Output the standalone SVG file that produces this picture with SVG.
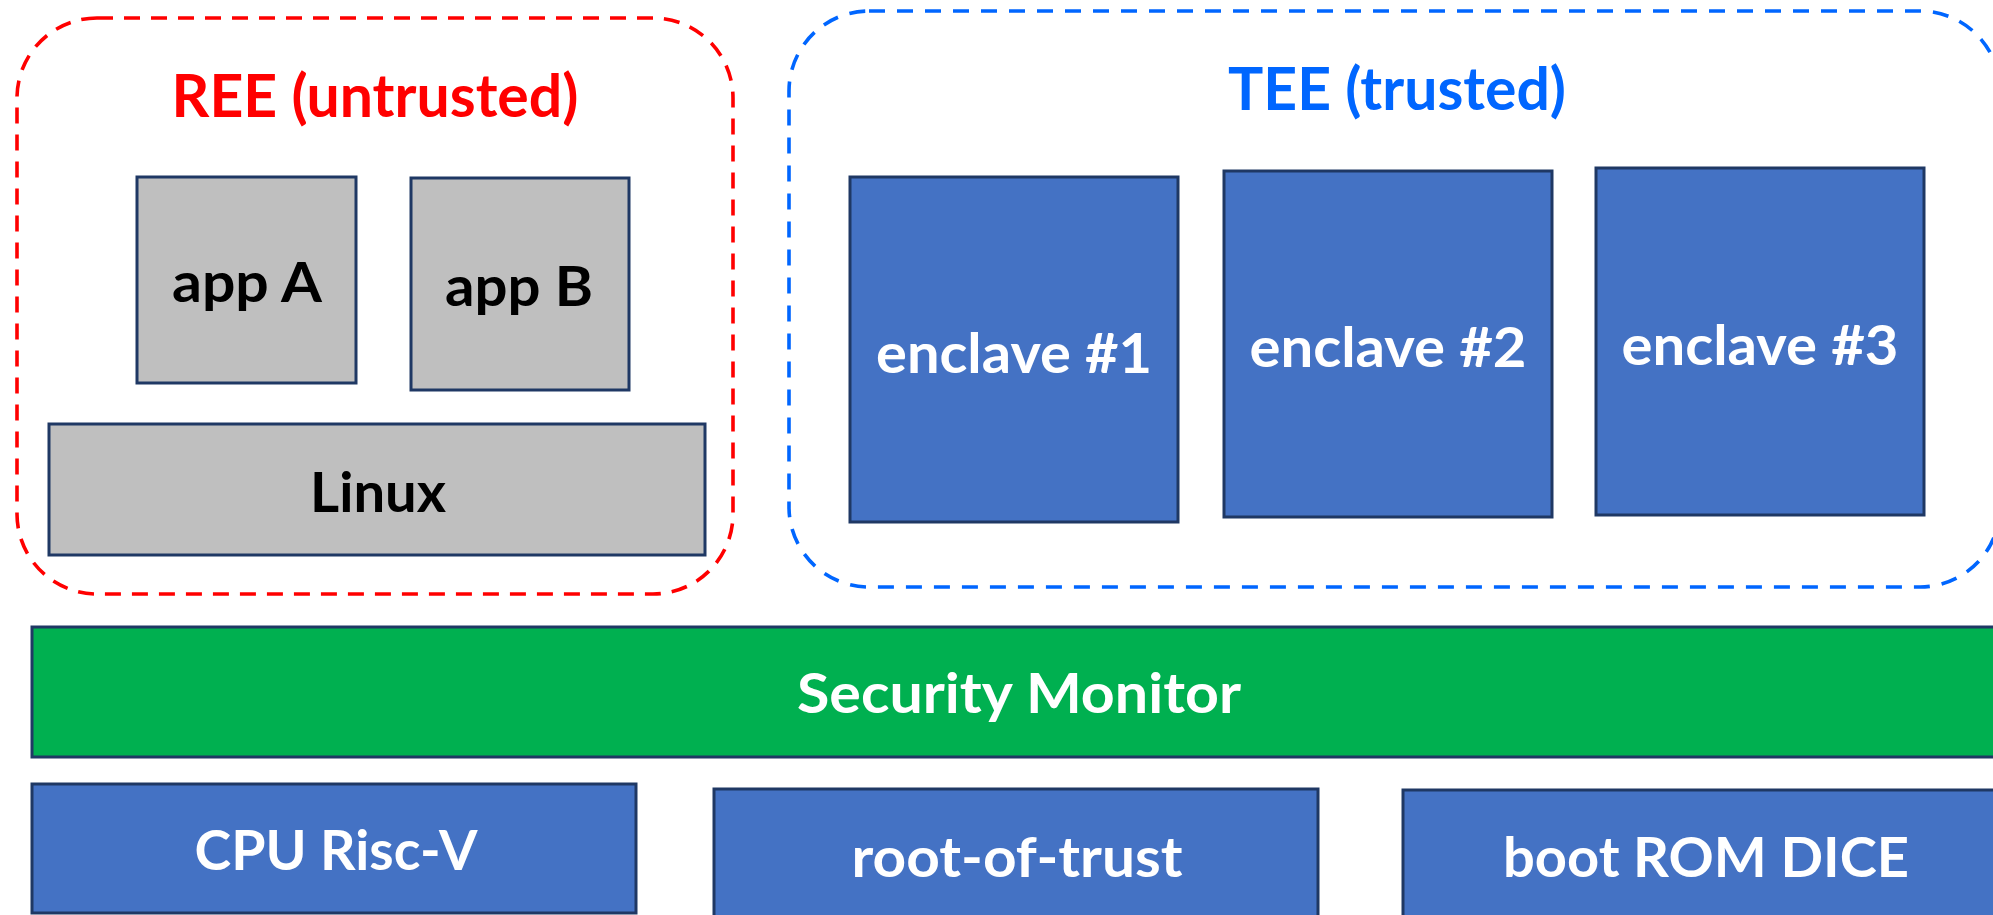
<svg xmlns="http://www.w3.org/2000/svg" width="1993" height="915" viewBox="0 0 1993 915">
  <style>
    .zone { fill: none; stroke-width: 3.6; }
    .ree { stroke: #FF0000; stroke-dasharray: 16 11; }
    .tee { stroke: #0066FF; stroke-dasharray: 16 12; }
    .box { stroke: #1F3864; stroke-width: 3; }
    .gray { fill: #BFBFBF; }
    .blue { fill: #4472C4; }
    .green { fill: #00B050; }
    text { font-family: Lato, "Open Sans", "Liberation Sans", sans-serif; font-weight: bold; text-anchor: middle; }
    .dark { fill: #000000; font-size: 56px; }
    .light { fill: #FFFFFF; font-size: 56px; }
    .title { font-size: 59px; }
  </style>

  <rect width="1993" height="915" fill="#FFFFFF"/>

  <!-- untrusted execution environment -->
  <g id="ree">
    <rect class="zone ree" x="17" y="18" width="716" height="576" rx="80" ry="80"/>
    <text class="title" x="375" y="117" fill="#FF0000" textLength="407" lengthAdjust="spacingAndGlyphs">REE (untrusted)</text>
  </g>
  <g id="app-a">
    <rect class="box gray" x="137" y="177" width="219" height="206"/>
    <text class="dark" x="247" y="302" textLength="150" lengthAdjust="spacingAndGlyphs">app A</text>
  </g>
  <g id="app-b">
    <rect class="box gray" x="411" y="178" width="218" height="212"/>
    <text class="dark" x="519" y="306" textLength="148" lengthAdjust="spacingAndGlyphs">app B</text>
  </g>
  <g id="linux">
    <rect class="box gray" x="49" y="424" width="656" height="131"/>
    <text class="dark" x="378" y="512" textLength="136" lengthAdjust="spacingAndGlyphs">Linux</text>
  </g>

  <!-- trusted execution environment -->
  <g id="tee">
    <rect class="zone tee" x="789" y="11" width="1211" height="576" rx="80" ry="80"/>
    <text class="title" x="1397" y="110" fill="#0066FF" textLength="338" lengthAdjust="spacingAndGlyphs">TEE (trusted)</text>
  </g>
  <g id="enclave-1">
    <rect class="box blue" x="850" y="177" width="328" height="345"/>
    <text class="light" x="1014" y="373" textLength="276" lengthAdjust="spacingAndGlyphs">enclave #1</text>
  </g>
  <g id="enclave-2">
    <rect class="box blue" x="1224" y="171" width="328" height="346"/>
    <text class="light" x="1388" y="367" textLength="277" lengthAdjust="spacingAndGlyphs">enclave #2</text>
  </g>
  <g id="enclave-3">
    <rect class="box blue" x="1596" y="168" width="328" height="347"/>
    <text class="light" x="1760" y="365" textLength="277" lengthAdjust="spacingAndGlyphs">enclave #3</text>
  </g>

  <!-- firmware layer -->
  <g id="security-monitor">
    <rect class="box green" x="32" y="627" width="1975" height="130"/>
    <text class="light" x="1019" y="713" textLength="444" lengthAdjust="spacingAndGlyphs">Security Monitor</text>
  </g>

  <!-- hardware layer -->
  <g id="cpu">
    <rect class="box blue" x="32" y="784" width="604" height="129"/>
    <text class="light" x="336" y="870" textLength="283" lengthAdjust="spacingAndGlyphs">CPU Risc-V</text>
  </g>
  <g id="root-of-trust">
    <rect class="box blue" x="714" y="789" width="604" height="140"/>
    <text class="light" x="1017" y="877" textLength="331" lengthAdjust="spacingAndGlyphs">root-of-trust</text>
  </g>
  <g id="boot-rom">
    <rect class="box blue" x="1403" y="790" width="620" height="140"/>
    <text class="light" x="1706" y="877" textLength="406" lengthAdjust="spacingAndGlyphs">boot ROM DICE</text>
  </g>

  <g id="connectors"/>
</svg>
